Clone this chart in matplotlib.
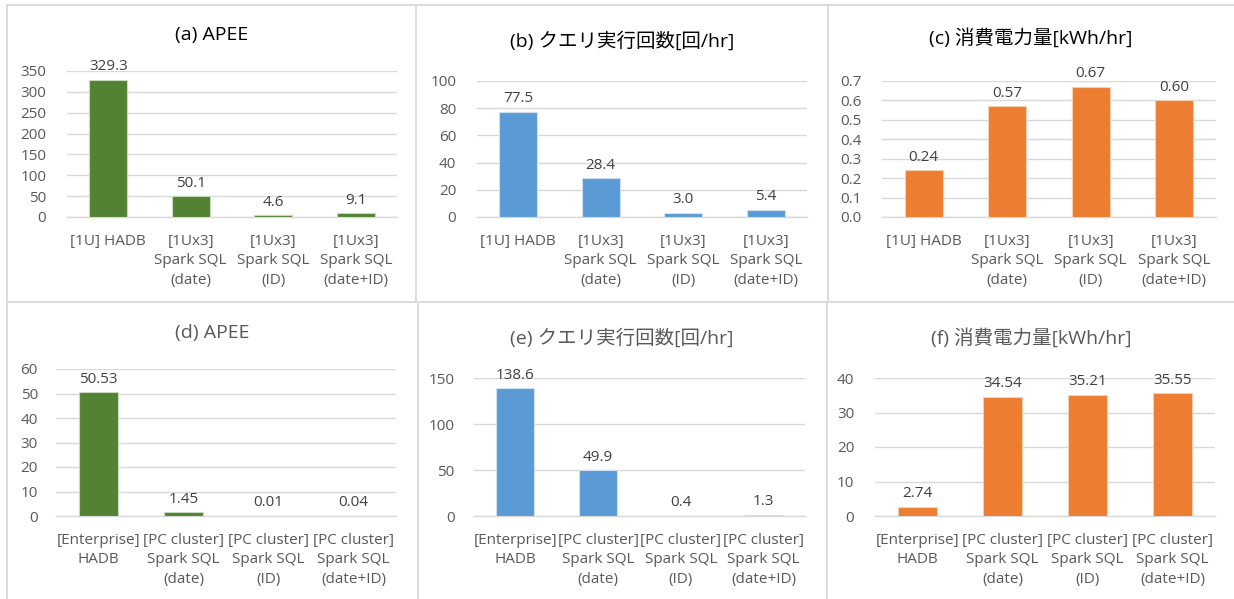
import matplotlib
matplotlib.use("Agg")
import matplotlib.pyplot as plt
from matplotlib.lines import Line2D
from matplotlib.ticker import MultipleLocator, FormatStrFormatter

plt.rcParams['font.family'] = ['Open Sans', 'Noto Sans CJK JP', 'DejaVu Sans']

# --- data ---
cats_top = ["[1U] HADB", "[1Ux3]\nSpark SQL\n(date)", "[1Ux3]\nSpark SQL\n(ID)",
            "[1Ux3]\nSpark SQL\n(date+ID)"]
cats_bottom = ["[Enterprise]\nHADB", "[PC cluster]\nSpark SQL\n(date)",
               "[PC cluster]\nSpark SQL\n(ID)", "[PC cluster]\nSpark SQL\n(date+ID)"]

apee_1u = [329.3, 50.1, 4.6, 9.1]
query_1u = [77.5, 28.4, 3.0, 5.4]
power_1u = [0.24, 0.57, 0.67, 0.60]
apee_pc = [50.53, 1.45, 0.01, 0.04]
query_pc = [138.6, 49.9, 0.4, 1.3]
power_pc = [2.74, 34.54, 35.21, 35.55]

titles = ["(a) APEE", "(b) クエリ実行回数[回/hr]", "(c) 消費電力量[kWh/hr]",
          "(d) APEE", "(e) クエリ実行回数[回/hr]", "(f) 消費電力量[kWh/hr]"]

GREEN, BLUE, ORANGE = "#548235", "#5B9BD5", "#ED7D31"
EDGES = {GREEN: "#c9d9bd", BLUE: "#cfe0f1", ORANGE: "#f7cfb2"}

W, H = 1234, 599
fig = plt.figure(figsize=(W / 100, H / 100), dpi=100)

# panel settings: values, categories, colour, ymax, step, tick fmt, label fmt,
# axes box (x0, x1, ytop, ybot) in px, title centre (x, y) in px, title colour, y pad
panels = [
    (apee_1u, cats_top, GREEN, 350, 50, "%d", "{:.1f}", (67, 397, 71, 217), (212, 35), "black", 15),
    (query_1u, cats_top, BLUE, 100, 20, "%d", "{:.1f}", (477, 807, 81, 217), (622, 41), "black", 15),
    (power_1u, cats_top, ORANGE, 0.7, 0.1, "%.1f", "{:.2f}", (882, 1216, 81, 217), (1031, 38), "black", 15),
    (apee_pc, cats_bottom, GREEN, 60, 10, "%d", "{:.2f}", (56, 396, 369, 516), (212, 333), "#595959", 13),
    (query_pc, cats_bottom, BLUE, 150, 50, "%d", "{:.1f}", (474, 805, 378, 516), (622, 338), "#595959", 14),
    (power_pc, cats_bottom, ORANGE, 40, 10, "%d", "{:.2f}", (875, 1215, 378, 516), (1031, 338), "#595959", 15),
]

for (vals, cats, col, ymax, step, tfmt, lfmt, box, tpos, tcol, ypad), title in zip(panels, titles):
    x0, x1, yt, yb = box
    ax = fig.add_axes([x0 / W, 1 - yb / H, (x1 - x0) / W, (yb - yt) / H])
    xs = range(len(vals))
    bars = ax.bar(xs, vals, width=0.46, color=col, edgecolor=EDGES[col], linewidth=0.8, zorder=3)
    ax.set_xlim(-0.5, len(vals) - 0.5)
    ax.set_ylim(0, ymax)
    ax.yaxis.set_major_locator(MultipleLocator(step))
    ax.yaxis.set_major_formatter(FormatStrFormatter(tfmt))
    ax.grid(axis='y', color='#d9d9d9', linewidth=1.0, zorder=0)
    for s in ['top', 'right', 'left']:
        ax.spines[s].set_visible(False)
    ax.spines['bottom'].set_color('#d9d9d9')
    ax.spines['bottom'].set_linewidth(1.0)
    ax.set_xticks(list(xs))
    ax.set_xticklabels(cats, fontsize=11, color='#595959', linespacing=1.42)
    ax.tick_params(axis='x', length=0, pad=12)
    ax.tick_params(axis='y', length=0, pad=ypad, labelsize=11, labelcolor='#595959')
    for b, v in zip(bars, vals):
        ax.annotate(lfmt.format(v), (b.get_x() + b.get_width() / 2, v),
                    xytext=(0, 4), textcoords='offset points',
                    ha='center', va='bottom', fontsize=11, color='#404040')
    fig.text(tpos[0] / W, 1 - tpos[1] / H, title, ha='center', va='center',
             fontsize=14, color=tcol)

# panel borders
def hline(y, xa, xb):
    fig.add_artist(Line2D([xa / W, xb / W], [1 - y / H, 1 - y / H], color='#d9d9d9', lw=1.3))

def vline(x, ya, yb):
    fig.add_artist(Line2D([x / W, x / W], [1 - ya / H, 1 - yb / H], color='#d9d9d9', lw=1.3))

hline(5, 7, W)
hline(302, 7, W)
vline(7, 5, H)
vline(416, 5, 302)
vline(828, 5, 302)
vline(418, 302, H)
vline(827, 302, H)

fig.savefig("out.png", dpi=100)
